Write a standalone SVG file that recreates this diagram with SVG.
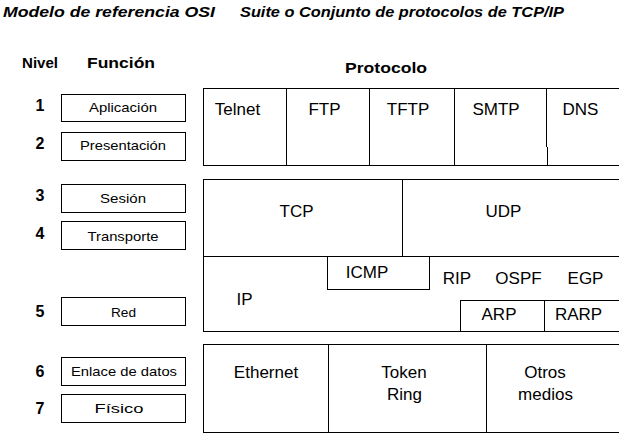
<svg xmlns="http://www.w3.org/2000/svg" width="619" height="434" viewBox="0 0 619 434">
<style>
  .box { fill: #fff; stroke: #000; stroke-width: 1; }
  .ln { stroke: #000; stroke-width: 1; fill: none; }
  .title { font-family: "Liberation Sans", Arial, sans-serif; font-size: 15px; font-weight: bold; font-style: italic; fill: #000; }
  .head { font-family: "Liberation Sans", Arial, sans-serif; font-size: 15px; font-weight: bold; fill: #000; }
  .num { font-family: "Liberation Sans", Arial, sans-serif; font-size: 16px; font-weight: bold; fill: #000; text-anchor: middle; }
  .fn { font-family: "Liberation Sans", Arial, sans-serif; font-size: 13.5px; fill: #000; text-anchor: middle; }
  .pr { font-family: "Liberation Sans", Arial, sans-serif; font-size: 17px; fill: #000; text-anchor: middle; }
</style>
<rect width="619" height="434" fill="#fff"/>

<g id="titles">
  <text class="title" x="3" y="17" textLength="212" lengthAdjust="spacingAndGlyphs">Modelo de referencia OSI</text>
  <text class="title" x="240" y="17" textLength="324" lengthAdjust="spacingAndGlyphs">Suite o Conjunto de protocolos de TCP/IP</text>
  <text class="head" x="22" y="68" textLength="36" lengthAdjust="spacingAndGlyphs">Nivel</text>
  <text class="head" x="87" y="68" textLength="68" lengthAdjust="spacingAndGlyphs">Función</text>
  <text class="head" x="345" y="73" textLength="82" lengthAdjust="spacingAndGlyphs">Protocolo</text>
</g>

<g id="levels">
  <text class="num" x="40" y="111">1</text>
  <text class="num" x="40" y="149">2</text>
  <text class="num" x="40" y="201">3</text>
  <text class="num" x="40" y="239">4</text>
  <text class="num" x="40" y="317">5</text>
  <text class="num" x="40" y="377">6</text>
  <text class="num" x="40" y="414">7</text>
</g>

<g id="fn-aplicacion"><rect class="box" x="61.5" y="94.5" width="124" height="27"/><text class="fn" x="123" y="112" textLength="68" lengthAdjust="spacingAndGlyphs">Aplicación</text></g>
<g id="fn-presentacion"><rect class="box" x="61.5" y="132.5" width="124" height="28"/><text class="fn" x="123" y="150" textLength="86" lengthAdjust="spacingAndGlyphs">Presentación</text></g>
<g id="fn-sesion"><rect class="box" x="61.5" y="184.5" width="124" height="28"/><text class="fn" x="123" y="203" textLength="46" lengthAdjust="spacingAndGlyphs">Sesión</text></g>
<g id="fn-transporte"><rect class="box" x="61.5" y="221.5" width="124" height="28"/><text class="fn" x="123" y="241" textLength="71" lengthAdjust="spacingAndGlyphs">Transporte</text></g>
<g id="fn-red"><rect class="box" x="61.5" y="297.5" width="124" height="28"/><text class="fn" x="123.5" y="317" textLength="25" lengthAdjust="spacingAndGlyphs">Red</text></g>
<g id="fn-enlace"><rect class="box" x="61.5" y="357.5" width="124" height="28"/><text class="fn" x="124" y="376" textLength="106" lengthAdjust="spacingAndGlyphs">Enlace de datos</text></g>
<g id="fn-fisico"><rect class="box" x="61.5" y="394.5" width="124" height="28"/><text class="fn" x="119" y="413" textLength="49" lengthAdjust="spacingAndGlyphs">Físico</text></g>

<g id="app-protocols">
  <rect class="box" x="203.5" y="88.5" width="440" height="77"/>
  <line class="ln" x1="286.5" y1="88.5" x2="286.5" y2="165.5"/>
  <line class="ln" x1="369.5" y1="88.5" x2="369.5" y2="165.5"/>
  <line class="ln" x1="454.5" y1="88.5" x2="454.5" y2="165.5"/>
  <line class="ln" x1="546.5" y1="88.5" x2="546.5" y2="147"/>
  <line class="ln" x1="547.5" y1="147" x2="547.5" y2="165.5"/>
  <text class="pr" x="237.5" y="115">Telnet</text>
  <text class="pr" x="324.5" y="115">FTP</text>
  <text class="pr" x="408" y="115">TFTP</text>
  <text class="pr" x="496" y="115">SMTP</text>
  <text class="pr" x="580.5" y="115">DNS</text>
</g>

<g id="transport-network">
  <rect class="box" x="203.5" y="179.5" width="440" height="152"/>
  <line class="ln" x1="402.5" y1="179.5" x2="402.5" y2="256.5"/>
  <line class="ln" x1="203.5" y1="256.5" x2="643" y2="256.5"/>
  <rect class="box" x="327.5" y="256.5" width="102" height="33"/>
  <rect class="box" x="460.5" y="300.5" width="183" height="31"/>
  <line class="ln" x1="544.5" y1="300.5" x2="544.5" y2="331.5"/>
  <text class="pr" x="296.5" y="217">TCP</text>
  <text class="pr" x="503.5" y="217">UDP</text>
  <text class="pr" x="367" y="278">ICMP</text>
  <text class="pr" x="244.5" y="305">IP</text>
  <text class="pr" x="457" y="284">RIP</text>
  <text class="pr" x="518.5" y="284">OSPF</text>
  <text class="pr" x="585.5" y="284">EGP</text>
  <text class="pr" x="499" y="320">ARP</text>
  <text class="pr" x="578.5" y="320">RARP</text>
</g>

<g id="link-physical">
  <rect class="box" x="203.5" y="344.5" width="440" height="88"/>
  <line class="ln" x1="328.5" y1="344.5" x2="328.5" y2="432.5"/>
  <line class="ln" x1="486.5" y1="344.5" x2="486.5" y2="432.5"/>
  <text class="pr" x="266" y="378">Ethernet</text>
  <text class="pr" x="404" y="378">Token</text>
  <text class="pr" x="404.5" y="400">Ring</text>
  <text class="pr" x="545" y="378">Otros</text>
  <text class="pr" x="545.5" y="400">medios</text>
</g>

<g id="connectors"></g>
</svg>
